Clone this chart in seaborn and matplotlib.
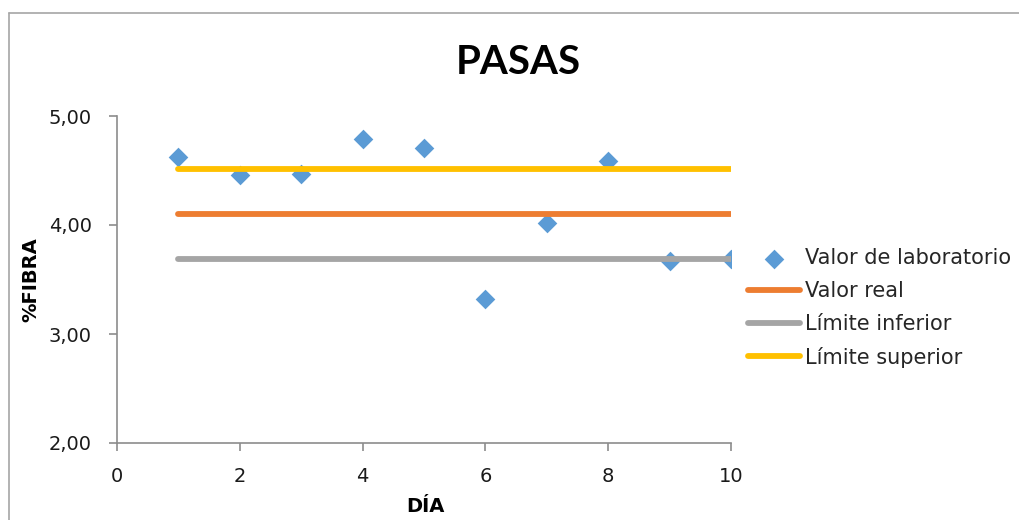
import matplotlib
matplotlib.use("Agg")
import matplotlib.pyplot as plt
from matplotlib.lines import Line2D
import seaborn as sns
import pandas as pd

# Daily fibre measurements for raisins
dias = [1, 2, 3, 4, 5, 6, 7, 8, 9, 10]
valor_laboratorio = [4.62, 4.46, 4.47, 4.79, 4.71, 3.32, 4.02, 4.59, 3.67, 3.69]
valor_real = [4.10] * 10
limite_inferior = [3.69] * 10
limite_superior = [4.51] * 10

x_ticks = [0, 2, 4, 6, 8, 10]
y_ticks = [2, 3, 4, 5]
y_tick_labels = ["2,00", "3,00", "4,00", "5,00"]

sns.set_theme(style="white")
plt.rcParams["font.family"] = ["DejaVu Sans"]

C_BLUE = "#5B9BD5"
C_ORANGE = "#ED7D31"
C_GRAY = "#A5A5A5"
C_YELLOW = "#FFC000"
C_AXIS = "#8C8C8C"
FS = 14
FS_LEG = 15

fig = plt.figure(figsize=(10.19, 5.20), dpi=100)
ax = fig.add_axes([117 / 1019, 77 / 520, 614 / 1019, 327 / 520])

df = pd.DataFrame({
    "dia": dias,
    "lab": valor_laboratorio,
    "real": valor_real,
    "inf": limite_inferior,
    "sup": limite_superior,
})

sns.scatterplot(data=df, x="dia", y="lab", marker="D", s=100, color=C_BLUE,
                linewidth=0, ax=ax, label="Valor de laboratorio", zorder=2)
for col, color, name in [("real", C_ORANGE, "Valor real"),
                         ("inf", C_GRAY, "Límite inferior"),
                         ("sup", C_YELLOW, "Límite superior")]:
    sns.lineplot(data=df, x="dia", y=col, color=color, linewidth=4.2,
                 solid_capstyle="round", ax=ax, label=name, zorder=3)

ax.set_xlim(0, 10)
ax.set_ylim(2, 5)
ax.set_xticks(x_ticks)
ax.set_yticks(y_ticks)
ax.set_yticklabels(y_tick_labels)
ax.set_xlabel("")
ax.set_ylabel("")

for side in ["top", "right"]:
    ax.spines[side].set_visible(False)
for side in ["left", "bottom"]:
    ax.spines[side].set_color(C_AXIS)
    ax.spines[side].set_linewidth(1.2)

ax.tick_params(axis="y", which="both", direction="out", length=6, width=1.2,
               color=C_AXIS, labelsize=FS, pad=12, left=True, labelcolor="#1a1a1a")
ax.tick_params(axis="x", which="both", direction="out", length=6, width=1.2,
               color=C_AXIS, labelsize=FS, pad=11, bottom=True, labelcolor="#1a1a1a")

ax.get_legend().remove()
handles, labels = ax.get_legend_handles_labels()
fig.legend(handles, labels, loc="upper left",
           bbox_to_anchor=(748 / 1019, 1 - 248 / 520),
           frameon=False, fontsize=FS_LEG, handlelength=2.5, handletextpad=0.24,
           labelspacing=0.62, borderpad=0, borderaxespad=0)

fig.text(518 / 1019, 1 - 62 / 520, "PASAS", ha="center", va="center",
         fontsize=29, fontweight="bold", color="black",
         family=["Lato", "DejaVu Sans"])
fig.text(31 / 1019, 1 - 280 / 520, "%FIBRA", ha="center", va="center",
         rotation=90, fontsize=FS, fontweight="bold", color="black")
fig.text(425 / 1019, 1 - 506 / 520, "DÍA", ha="center", va="center",
         fontsize=FS, fontweight="bold", color="black")

# chart area frame (left and top edges; the rest lies outside the image)
x0, y0 = 8.5 / 1019, 1 - 13 / 520
fig.add_artist(Line2D([x0, x0], [0, y0], transform=fig.transFigure,
                      color="#A6A6A6", linewidth=1.2))
fig.add_artist(Line2D([x0, 1], [y0, y0], transform=fig.transFigure,
                      color="#A6A6A6", linewidth=1.2))

fig.savefig("out.png", dpi=100)
